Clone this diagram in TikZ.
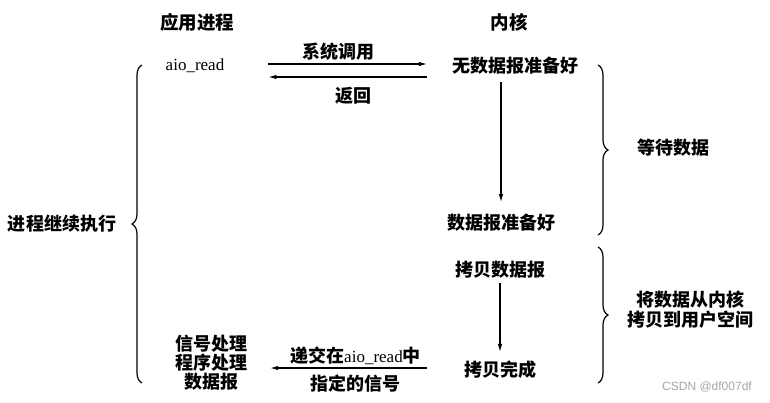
\documentclass[tikz,border=0pt]{standalone}
\usepackage{fontspec}
\setmainfont{Liberation Serif}
\newfontfamily\cjk{Noto Sans CJK SC}
\newfontfamily\wmfont{Liberation Sans}
\usetikzlibrary{arrows.meta,decorations.pathreplacing}

\begin{document}
\begin{tikzpicture}[x=1pt,y=-1pt,
        txt/.style={font=\cjk\bfseries\fontsize{18}{19}\selectfont,inner sep=1pt},
        head/.style={font=\cjk\bfseries\fontsize{18.5}{19}\selectfont,inner sep=1pt},
        arr/.style={-{Latex[length=8pt,width=4.5pt]},line width=1.1pt},
        brc/.style={decorate,decoration={brace,amplitude=10pt},line width=1.2pt}]
                \useasboundingbox (0,0) rectangle (770,402);
                \node[head] (app) at (197,22) {应用进程};
                \node[head] (kern) at (509,22) {内核};
                \node[txt,font=\fontsize{17}{19}\selectfont] (aio) at (195,66) {aio\_read};
                \node[txt] (nodata) at (515,66) {无数据报准备好};
                \node[txt] (ready) at (501,223) {数据报准备好};
                \node[txt] (copy) at (500,270) {拷贝数据报};
                \node[txt] (done) at (500,370) {拷贝完成};
                \node[txt,align=center] (handler) at (211,363) {信号处理\\程序处理\\数据报};
                \draw[arr,shorten <=43pt,shorten >=24pt] ([yshift=2pt]aio.east) -- ([yshift=2pt]aio.east -| nodata.west) node[txt,midway,above=2pt]{系统调用};
                \draw[arr,shorten <=24pt,shorten >=43pt] ([yshift=-11pt]aio.east -| nodata.west) -- ([yshift=-11pt]aio.east) node[txt,pos=0.43,below=9pt]{返回};
                \draw[arr,shorten <=6pt,shorten >=11pt] (nodata.south -| ready.north) -- (ready.north);
                \draw[arr,shorten <=3pt,shorten >=8pt] (copy.south) -- (done.north);
                \draw[arr,shorten <=36pt,shorten >=22pt] ([yshift=2pt]done.west) -- ([yshift=2pt]done.west -| handler.east)
                    node[txt,midway,above=2pt]{递交在{\rmfamily\mdseries\fontsize{17}{19}\selectfont aio\_read}中}
                    node[txt,midway,below=5pt]{指定的信号};
                % braces
                \node[txt] (cont) at (62,224) {进程继续执行};
                \draw[brc] (142,383) -- (142,65);
                \node[txt] (wait) at (673,148) {等待数据};
                \draw[brc] (598,65) -- (598,235);
                \node[txt,align=center,font=\cjk\bfseries\fontsize{18}{20}\selectfont] (tocopy) at (690,310) {将数据从内核\\拷贝到用户空间};
                \draw[brc] (598,247) -- (598,383);
                \node[font=\wmfont\fontsize{12}{14}\selectfont,text=gray!70] (wm) at (707,387) {CSDN @df007df};
            \end{tikzpicture}
\end{document}
